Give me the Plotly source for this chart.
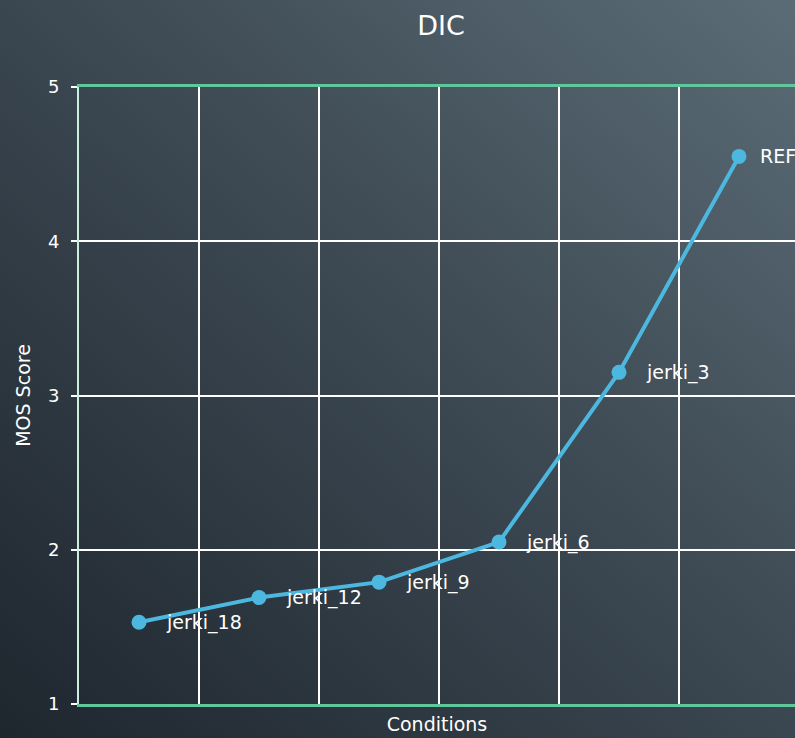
import base64
import plotly.graph_objects as go

# Conditions and their mean opinion scores
conditions = ["jerki_18", "jerki_12", "jerki_9", "jerki_6", "jerki_3", "REF"]
mos_scores = [1.53, 1.69, 1.79, 2.05, 3.15, 4.55]
y_ticks = [1, 2, 3, 4, 5]

W, H = 795, 738
ML, MR, MT, MB = 79, 0, 87, 34
PW, PH = W - ML - MR, H - MT - MB

FONT = "DejaVu Sans"
LINE_BLUE = "#4db8df"
BORDER_GREEN = "#5fc79a"

# Diagonal dark-slate gradient used as the page background
svg = (
    f'<svg xmlns="http://www.w3.org/2000/svg" width="{W}" height="{H}">'
    '<defs><linearGradient id="g" x1="0" y1="1" x2="1" y2="0">'
    '<stop offset="0" stop-color="#1e262e"/>'
    '<stop offset="0.5" stop-color="#3a4650"/>'
    '<stop offset="1" stop-color="#5b6c76"/>'
    '</linearGradient></defs>'
    f'<rect width="{W}" height="{H}" fill="url(#g)"/></svg>'
)
bg_uri = "data:image/svg+xml;base64," + base64.b64encode(svg.encode()).decode()

xs = list(range(len(conditions)))

fig = go.Figure()
fig.add_trace(go.Scatter(
    x=xs, y=mos_scores, mode="lines+markers",
    line=dict(color=LINE_BLUE, width=4),
    marker=dict(color=LINE_BLUE, size=15),
    hoverinfo="skip", showlegend=False,
))

# Point labels sit to the right of each marker; the last one hugs the edge
for x, y, name in zip(xs, mos_scores, conditions):
    fig.add_annotation(
        x=x, y=y, text=name, showarrow=False,
        xanchor="left", yanchor="middle",
        xshift=19 if x == xs[-1] else 25,
        font=dict(family=FONT, size=19, color="white"),
    )

fig.update_layout(
    width=W, height=H,
    margin=dict(l=ML, r=MR, t=MT, b=MB),
    paper_bgcolor="rgba(0,0,0,0)",
    plot_bgcolor="rgba(0,0,0,0)",
    font=dict(family=FONT, color="white"),
    title=dict(text="DIC", x=(ML + 362) / W, xanchor="center",
               y=1 - 26 / H, yanchor="middle",
               font=dict(family=FONT, size=27, color="white")),
    images=[dict(
        source=bg_uri, xref="paper", yref="paper",
        x=-ML / PW, y=1 + MT / PH, sizex=W / PW, sizey=H / PH,
        xanchor="left", yanchor="top", sizing="stretch", layer="below",
    )],
    xaxis=dict(
        range=[-0.5, -0.5 + PW / 120],
        tickvals=[i + 0.5 for i in range(len(conditions))],
        showticklabels=False, ticks="",
        showgrid=True, gridcolor="white", gridwidth=2,
        showline=True, mirror=True, linecolor=BORDER_GREEN, linewidth=3,
        zeroline=False,
        title=dict(text="Conditions", standoff=12,
                   font=dict(family=FONT, size=19, color="white")),
    ),
    yaxis=dict(
        range=[1, 5], tickvals=y_ticks,
        showgrid=True, gridcolor="white", gridwidth=2,
        showline=True, linecolor="#cdeede", linewidth=2,
        ticks="outside", ticklen=6, tickcolor="white", tickwidth=2,
        ticklabelstandoff=8,
        tickfont=dict(family=FONT, size=18, color="white"),
        zeroline=False,
        title=dict(text="MOS Score", standoff=12,
                   font=dict(family=FONT, size=19, color="white")),
    ),
)

fig.write_html("out.html")
